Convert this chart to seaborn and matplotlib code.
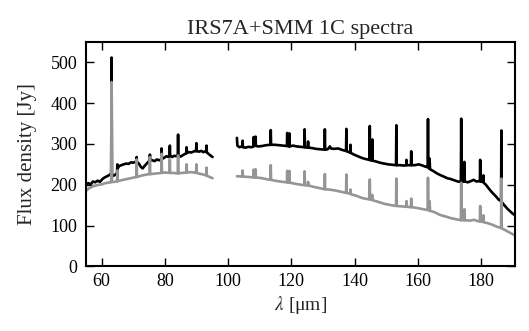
import numpy as np
import pandas as pd
import matplotlib
matplotlib.use("Agg")
import matplotlib.pyplot as plt
import seaborn as sns

# (wavelength [um], flux [Jy]), two PACS pieces per spectrum
black_short = [
    (55.0, 200), (55.8, 204), (56.5, 201), (57.3, 208), (58.0, 206), (58.8, 210),
    (59.5, 207), (60.3, 214), (61.0, 218), (61.8, 221), (62.5, 224), (62.9, 226),
    (63.05, 226), (63.18, 512), (63.3, 226), (63.8, 222), (64.4, 225),
    (64.9, 228), (65.0, 250), (65.1, 240), (65.6, 246), (66.3, 248), (67.0, 250),
    (67.8, 252), (68.5, 251), (69.3, 255), (70.0, 254), (70.7, 256),
    (71.0, 257), (71.1, 268), (71.2, 256), (71.8, 252), (72.4, 244), (73.0, 240),
    (73.6, 246), (74.3, 252), (75.0, 258), (75.2, 259), (75.3, 274), (75.4, 260),
    (76.0, 260), (76.8, 258), (77.5, 262), (78.2, 260),
    (78.9, 262), (79.0, 289), (79.1, 263), (79.8, 266), (80.5, 270), (81.2, 268),
    (81.5, 270), (81.6, 296), (81.7, 272), (82.3, 268), (83.0, 271), (83.7, 270),
    (84.1, 271), (84.2, 323), (84.3, 272), (85.0, 269), (85.8, 273), (86.5, 276),
    (86.8, 277), (86.9, 292), (87.0, 278), (87.6, 280), (88.3, 279), (89.0, 281),
    (89.6, 283), (89.9, 282), (90.0, 302), (90.1, 283), (90.8, 281), (91.5, 283),
    (92.2, 280), (92.8, 282), (93.1, 281), (93.2, 296), (93.3, 279), (93.8, 276),
    (94.4, 272), (95.1, 268),
]
gray_short = [
    (55.0, 184), (55.8, 190), (56.5, 193), (57.3, 196), (58.2, 198), (59.2, 200),
    (60.2, 201), (61.2, 204), (62.2, 205), (62.9, 206),
    (63.05, 206), (63.18, 452), (63.3, 207), (64.0, 207),
    (64.9, 208), (65.0, 235), (65.1, 209), (65.8, 210), (66.8, 212), (68.0, 214),
    (69.2, 216), (70.4, 218), (71.0, 219), (71.1, 262), (71.2, 219), (72.0, 221),
    (73.0, 223), (74.2, 225), (75.2, 226), (75.3, 268), (75.4, 226), (76.5, 227),
    (77.8, 228), (78.9, 229), (79.0, 276), (79.1, 229), (80.0, 230),
    (81.5, 229), (81.6, 262), (81.7, 229), (82.8, 229),
    (84.1, 228), (84.2, 272), (84.3, 228), (85.5, 229),
    (86.8, 230), (86.9, 250), (87.0, 230), (88.2, 231), (89.2, 230),
    (89.9, 229), (90.0, 250), (90.1, 229), (91.0, 227), (92.2, 225),
    (93.1, 223), (93.2, 242), (93.3, 222), (94.2, 219), (95.1, 216),
]
black_long = [
    (102.8, 315), (102.95, 296), (103.6, 292), (104.3, 294),
    (104.5, 293), (104.6, 308), (104.7, 292), (105.5, 291), (106.5, 293), (107.5, 292),
    (108.0, 294), (108.1, 317), (108.2, 295), (108.6, 296), (108.7, 318), (108.8, 295),
    (109.6, 294), (110.8, 295), (112.0, 297),
    (113.4, 298), (113.5, 334), (113.6, 298), (114.8, 298), (116.0, 297), (117.3, 296),
    (118.6, 295), (118.7, 327), (118.8, 295), (119.3, 294), (119.4, 326), (119.5, 294),
    (120.5, 296), (121.7, 294), (123.0, 293),
    (124.1, 292), (124.2, 336), (124.3, 292), (125.2, 291), (125.3, 306), (125.4, 291),
    (126.5, 290), (127.8, 288), (129.2, 287),
    (130.5, 286), (130.6, 336), (130.7, 286), (131.5, 287), (132.2, 294), (132.5, 289),
    (133.5, 288), (134.8, 289), (136.2, 285),
    (137.3, 283), (137.4, 337), (137.5, 282), (138.6, 279), (138.7, 298), (138.8, 278),
    (139.8, 274), (141.0, 270), (142.2, 266), (143.5, 263),
    (144.7, 261), (144.8, 344), (144.9, 260), (145.5, 260), (145.6, 311), (145.7, 259),
    (146.8, 257), (148.0, 254), (149.3, 252), (150.6, 250), (152.0, 249),
    (153.1, 248), (153.2, 346), (153.3, 248), (154.5, 248), (155.6, 247),
    (156.3, 248), (156.4, 261), (156.5, 248), (157.8, 248), (157.9, 282), (158.0, 248),
    (159.0, 248), (160.3, 250), (161.5, 247), (162.5, 244),
    (163.1, 243), (163.2, 361), (163.3, 250), (163.55, 240), (163.7, 264), (163.85, 238),
    (164.8, 234), (166.0, 228), (167.0, 224), (168.2, 220), (169.3, 216), (170.4, 214),
    (171.5, 211), (172.6, 208),
    (173.6, 207), (173.7, 362), (173.8, 207), (174.6, 208), (174.7, 256), (174.8, 208),
    (175.8, 206), (176.8, 209), (177.6, 212), (178.5, 208),
    (179.6, 209), (179.7, 261), (179.8, 208), (180.6, 207), (180.7, 223), (180.8, 205),
    (181.5, 200), (182.5, 190), (183.6, 180), (184.6, 172), (185.6, 163),
    (186.3, 160), (186.4, 333), (186.5, 158), (187.3, 150), (188.2, 142),
    (189.0, 136), (190.0, 129), (190.6, 126),
]
gray_long = [
    (102.8, 221), (104.5, 220), (104.6, 235), (104.7, 220), (106.5, 219),
    (108.0, 218), (108.1, 237), (108.2, 218), (108.6, 218), (108.7, 238), (108.8, 218),
    (110.8, 216), (112.5, 213), (113.4, 212), (113.5, 248), (113.6, 212),
    (115.5, 209), (117.3, 207),
    (118.6, 206), (118.7, 234), (118.8, 206), (119.3, 205), (119.4, 234), (119.5, 205),
    (121.5, 202), (123.0, 200),
    (124.1, 199), (124.2, 233), (124.3, 199), (125.2, 198), (125.3, 207), (125.4, 198),
    (127.0, 195), (128.8, 192), (130.5, 189), (130.6, 226), (130.7, 189),
    (132.2, 188), (133.8, 186), (135.6, 183),
    (137.3, 180), (137.4, 225), (137.5, 180), (138.6, 178), (138.7, 188), (138.8, 177),
    (140.5, 173), (142.6, 167),
    (144.7, 164), (144.8, 213), (144.9, 164), (145.5, 163), (145.6, 175), (145.7, 162),
    (147.5, 158), (149.5, 153), (151.5, 150),
    (153.1, 148), (153.2, 215), (153.3, 148), (154.8, 147),
    (156.3, 146), (156.4, 160), (156.5, 146), (157.8, 145), (157.9, 166), (158.0, 145),
    (159.8, 143), (161.6, 140),
    (163.1, 138), (163.2, 217), (163.3, 138), (163.55, 137), (163.7, 160), (163.85, 136),
    (165.2, 133), (167.0, 126), (168.8, 122), (170.5, 118), (172.3, 115),
    (173.6, 113), (173.7, 205), (173.8, 113), (174.6, 113), (174.7, 140), (174.8, 113),
    (176.5, 112), (177.8, 114), (178.8, 111),
    (179.6, 110), (179.7, 148), (179.8, 110), (180.6, 109), (180.7, 125), (180.8, 108),
    (182.0, 106), (183.5, 102), (185.0, 97),
    (186.3, 94), (186.4, 215), (186.5, 93), (187.8, 88), (189.2, 82), (190.6, 76),
]

pieces = [("total", "a", black_short), ("total", "b", black_long),
          ("gray", "a", gray_short), ("gray", "b", gray_long)]
frames = []
for name, seg, pts in pieces:
    d = pd.DataFrame(pts, columns=["wl", "flux"])
    d["spectrum"] = name
    d["segment"] = seg
    frames.append(d)
df = pd.concat(frames, ignore_index=True)

sns.set_style("ticks")
plt.rcParams["font.family"] = ["Liberation Serif", "DejaVu Serif"]
plt.rcParams["mathtext.fontset"] = "stix"

fig = plt.figure(figsize=(5.29, 3.31), dpi=100)
ax = fig.add_axes([0.162, 0.1955, 0.8115, 0.6775])

sns.lineplot(data=df, x="wl", y="flux", hue="spectrum", units="segment",
             estimator=None, sort=False, palette={"total": "black", "gray": "#959595"},
             linewidth=1.9, legend=False, ax=ax)

ax.set_xlim(55, 190.7)
ax.set_ylim(0, 550)
ax.set_xticks([60, 80, 100, 120, 140, 160, 180])
ax.set_yticks([0, 100, 200, 300, 400, 500])
ax.tick_params(direction="in", top=True, right=True, length=6, width=1,
               labelsize=13, pad=5, color="black", labelcolor="black")
ax.tick_params(axis="y", pad=6)
for s in ax.spines.values():
    s.set_linewidth(1.5)
    s.set_color("black")

ax.set_title("IRS7A+SMM 1C spectra", fontsize=16, pad=6)
ax.set_xlabel(r"$\lambda$ [μm]", fontsize=14, labelpad=3)
ax.set_ylabel("Flux density [Jy]", fontsize=15, labelpad=10)

fig.savefig("out.png", dpi=100)
